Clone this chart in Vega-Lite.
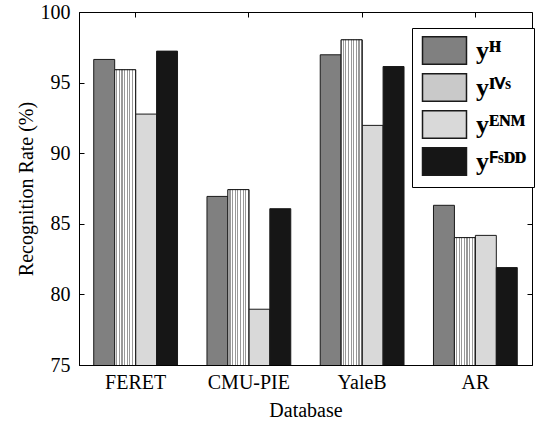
{
  "$schema": "https://vega.github.io/schema/vega-lite/v6.json",
  "width": 453,
  "height": 353,
  "autosize": "none",
  "padding": {"left": 79, "top": 12, "right": 5, "bottom": 57},
  "background": "white",
  "config": {
    "font": "Liberation Serif",
    "view": {"stroke": "black"},
    "axis": {
      "labelFont": "Liberation Serif",
      "titleFont": "Liberation Serif",
      "labelColor": "black",
      "titleColor": "black",
      "domainColor": "black",
      "tickColor": "black",
      "grid": false,
      "labelFontSize": 20,
      "titleFontSize": 20,
      "titleFontWeight": "normal"
    }
  },
  "data": {
    "values": [
      {"db": "FERET", "method": "H", "rate": 96.64},
      {"db": "FERET", "method": "IVS", "rate": 95.91},
      {"db": "FERET", "method": "ENM", "rate": 92.77},
      {"db": "FERET", "method": "FSDD", "rate": 97.23},
      {"db": "CMU-PIE", "method": "H", "rate": 86.94},
      {"db": "CMU-PIE", "method": "IVS", "rate": 87.42},
      {"db": "CMU-PIE", "method": "ENM", "rate": 78.95},
      {"db": "CMU-PIE", "method": "FSDD", "rate": 86.07},
      {"db": "YaleB", "method": "H", "rate": 96.97},
      {"db": "YaleB", "method": "IVS", "rate": 98.03},
      {"db": "YaleB", "method": "ENM", "rate": 91.97},
      {"db": "YaleB", "method": "FSDD", "rate": 96.14},
      {"db": "AR", "method": "H", "rate": 86.31},
      {"db": "AR", "method": "IVS", "rate": 84.02},
      {"db": "AR", "method": "ENM", "rate": 84.18},
      {"db": "AR", "method": "FSDD", "rate": 81.9}
    ]
  },
  "layer": [
    {
      "mark": {"type": "bar", "stroke": "#1a1a1a", "clip": true},
      "encoding": {
        "x": {
          "field": "db", "type": "nominal", "sort": ["FERET", "CMU-PIE", "YaleB", "AR"],
          "scale": {"paddingInner": 0.26, "paddingOuter": 0.13},
          "axis": {"title": "Database", "labelAngle": 0, "tickSize": -5, "labelPadding": 12, "titlePadding": 8}
        },
        "xOffset": {
          "field": "method", "type": "nominal", "sort": ["H", "IVS", "ENM", "FSDD"],
          "scale": {"paddingInner": 0, "paddingOuter": 0}
        },
        "y": {
          "field": "rate", "type": "quantitative",
          "scale": {"domain": [75, 100], "zero": false, "nice": false},
          "axis": {"title": "Recognition Rate (%)", "values": [75, 80, 85, 90, 95, 100], "tickSize": -5, "labelPadding": 14, "titlePadding": 4}
        },
        "color": {
          "field": "method", "type": "nominal", "sort": ["H", "IVS", "ENM", "FSDD"],
          "scale": {
            "domain": ["H", "IVS", "ENM", "FSDD"],
            "range": ["#808080", "#c9c9c9", "#d9d9d9", "#161616"]
          },
          "legend": {
            "title": null,
            "orient": "none",
            "legendX": 333,
            "legendY": 16,
            "strokeColor": "black",
            "fillColor": "white",
            "padding": 8,
            "symbolType": "M-1.6,-1H1.6V1H-1.6Z",
            "symbolSize": 756,
            "symbolOffset": 10,
            "symbolStrokeColor": "#1a1a1a",
            "rowPadding": 2,
            "labelFont": "Liberation Serif",
            "labelFontSize": 26,
            "labelFontWeight": "bold",
            "labelColor": "black",
            "labelOffset": 17,
            "labelExpr": "datum.value == 'H' ? 'yᴴ' : datum.value == 'IVS' ? 'yᴵⱽˢ' : datum.value == 'ENM' ? 'yᴱᴺᴹ' : 'yꟳˢᴰᴰ'"
          }
        }
      }
    },
    {
      "transform": [{"filter": "datum.method == 'IVS'"}],
      "mark": {
        "type": "bar", "stroke": "#1a1a1a", "clip": true,
        "color": {"gradient": "linear", "x1": 0, "y1": 0, "x2": 1, "y2": 0, "stops": [
          {"offset": 0, "color": "#ffffff"}, {"offset": 0.075, "color": "#ffffff"}, {"offset": 0.075, "color": "#999999"}, {"offset": 0.125, "color": "#999999"},
          {"offset": 0.125, "color": "#ffffff"}, {"offset": 0.2, "color": "#ffffff"}, {"offset": 0.2, "color": "#999999"}, {"offset": 0.25, "color": "#999999"},
          {"offset": 0.25, "color": "#ffffff"}, {"offset": 0.325, "color": "#ffffff"}, {"offset": 0.325, "color": "#999999"}, {"offset": 0.375, "color": "#999999"},
          {"offset": 0.375, "color": "#ffffff"}, {"offset": 0.45, "color": "#ffffff"}, {"offset": 0.45, "color": "#999999"}, {"offset": 0.5, "color": "#999999"},
          {"offset": 0.5, "color": "#ffffff"}, {"offset": 0.575, "color": "#ffffff"}, {"offset": 0.575, "color": "#999999"}, {"offset": 0.625, "color": "#999999"},
          {"offset": 0.625, "color": "#ffffff"}, {"offset": 0.7, "color": "#ffffff"}, {"offset": 0.7, "color": "#999999"}, {"offset": 0.75, "color": "#999999"},
          {"offset": 0.75, "color": "#ffffff"}, {"offset": 0.825, "color": "#ffffff"}, {"offset": 0.825, "color": "#999999"}, {"offset": 0.875, "color": "#999999"},
          {"offset": 0.875, "color": "#ffffff"}, {"offset": 0.95, "color": "#ffffff"}, {"offset": 0.95, "color": "#999999"}, {"offset": 1, "color": "#999999"}
        ]}
      },
      "encoding": {
        "x": {"field": "db", "type": "nominal", "sort": ["FERET", "CMU-PIE", "YaleB", "AR"], "axis": null},
        "xOffset": {"field": "method", "type": "nominal", "sort": ["H", "IVS", "ENM", "FSDD"]},
        "y": {"field": "rate", "type": "quantitative", "scale": {"domain": [75, 100], "zero": false, "nice": false}, "axis": null}
      }
    },
    {
      "mark": {"type": "tick", "opacity": 0},
      "encoding": {
        "x": {
          "field": "db", "type": "nominal", "sort": ["FERET", "CMU-PIE", "YaleB", "AR"],
          "axis": {"orient": "top", "labels": false, "title": null, "tickSize": -5, "domain": false}
        },
        "y": {
          "field": "rate", "type": "quantitative",
          "scale": {"domain": [75, 100], "zero": false, "nice": false},
          "axis": {"orient": "right", "labels": false, "title": null, "values": [75, 80, 85, 90, 95, 100], "tickSize": -5, "domain": false}
        }
      }
    }
  ],
  "resolve": {"axis": {"x": "independent", "y": "independent"}}
}
